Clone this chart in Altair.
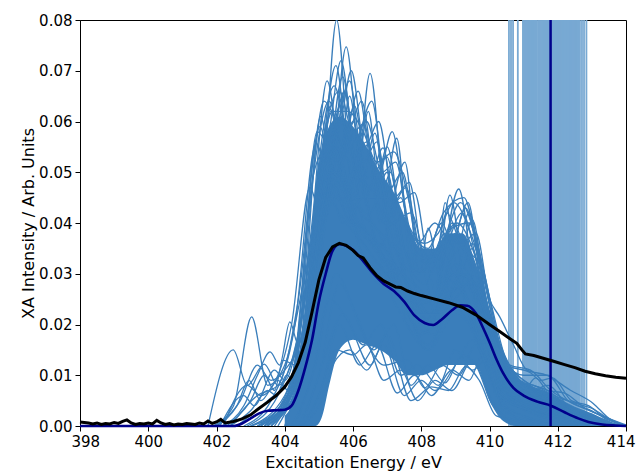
import altair as alt
import pandas as pd

# ---------------- data ----------------
x_ticks = [398, 400, 402, 404, 406, 408, 410, 412, 414]
y_ticks = [0.00, 0.01, 0.02, 0.03, 0.04, 0.05, 0.06, 0.07, 0.08]

# ionisation potentials (light vertical lines) and their mean (dark line)
ip_energies = [410.57, 410.63, 410.69, 410.83, 410.98, 411.01, 411.04, 411.07, 411.10,
               411.13, 411.16, 411.19, 411.22, 411.25, 411.28, 411.31, 411.34, 411.37,
               411.42, 411.45, 411.48, 411.51, 411.54, 411.57, 411.60, 411.63, 411.66,
               411.69, 411.72, 411.75, 411.78, 411.81, 411.84, 411.87, 411.90, 411.93,
               411.96, 411.99, 412.02, 412.05, 412.08, 412.11, 412.14, 412.17, 412.20,
               412.23, 412.26, 412.29, 412.32, 412.35, 412.38, 412.41, 412.44, 412.47,
               412.50, 412.53, 412.56, 412.59, 412.62, 412.65, 412.71, 412.77, 412.84]
mean_ip = 411.79

# dense core of the overlapping computed spectra
core_energy = [404.0, 404.3, 404.5, 404.7, 404.9, 405.1, 405.3, 405.6, 406.0, 406.4,
               406.8, 407.2, 407.6, 408.0, 408.4, 408.8, 409.2, 409.6, 410.0, 410.4,
               410.8, 411.2, 411.6, 412.0, 412.5, 413.0, 413.5, 414.0]
core_low = [0, 0, 0, 0, 0, 0.002, 0.008, 0.015, 0.017, 0.016, 0.015, 0.013, 0.010, 0.010,
            0.011, 0.012, 0.012, 0.012, 0.005, 0.001, 0, 0, 0, 0, 0, 0, 0, 0]
core_high = [0.002, 0.006, 0.016, 0.030, 0.047, 0.055, 0.059, 0.061, 0.059, 0.055, 0.050,
             0.046, 0.040, 0.035, 0.035, 0.038, 0.038, 0.032, 0.023, 0.015, 0.010, 0.008,
             0.007, 0.0055, 0.0038, 0.0025, 0.001, 0]

# individual computed spectra (energy, intensity knots)
upper_spectra = [
    [(403.0, 0), (404.0, 0.004), (404.6, 0.02), (405.15, 0.05), (405.52, 0.080), (405.95, 0.045), (406.4, 0.032), (407.0, 0.030), (407.6, 0.022), (408.2, 0.016), (409.1, 0.028), (409.8, 0.015), (410.4, 0.005), (411.3, 0.003), (412.5, 0.0008), (413.5, 0)],
    [(403.2, 0), (404.2, 0.005), (404.9, 0.03), (405.4, 0.05), (405.8, 0.0747), (406.2, 0.05), (406.6, 0.038), (407.2, 0.03), (407.8, 0.02), (408.4, 0.018), (408.9, 0.03), (409.5, 0.022), (410.2, 0.007), (411.0, 0.004), (412.2, 0.001), (413.2, 0)],
    [(403.4, 0), (404.3, 0.006), (405.0, 0.035), (405.5, 0.045), (406.0, 0.04), (406.5, 0.0695), (406.95, 0.04), (407.5, 0.025), (408.2, 0.015), (409.0, 0.025), (409.6, 0.02), (410.3, 0.006), (411.2, 0.003), (412.5, 0.001), (413.5, 0)],
    [(402.6, 0), (403.5, 0.005), (404.2, 0.01), (404.8, 0.04), (405.24, 0.068), (405.65, 0.05), (406.2, 0.035), (406.8, 0.028), (407.4, 0.03), (408.0, 0.02), (408.7, 0.025), (409.4, 0.022), (410.0, 0.01), (410.8, 0.004), (412.0, 0.002), (413.2, 0)],
    [(403.0, 0), (404.0, 0.006), (404.7, 0.025), (405.2, 0.045), (405.7, 0.0688), (406.2, 0.045), (406.64, 0.0577), (407.1, 0.035), (407.6, 0.028), (408.3, 0.02), (408.84, 0.0455), (409.3, 0.025), (410.0, 0.012), (410.6, 0.005), (411.7, 0.003), (413.0, 0)],
    [(403.3, 0), (404.3, 0.008), (404.9, 0.04), (405.5, 0.071), (405.95, 0.05), (406.32, 0.0597), (406.8, 0.04), (407.28, 0.0567), (407.7, 0.03), (408.3, 0.022), (409.1, 0.0467), (409.6, 0.025), (410.2, 0.01), (411.0, 0.006), (411.7, 0.008), (412.4, 0.003), (413.3, 0)],
    [(402.4, 0), (403.2, 0.006), (403.8, 0.008), (404.4, 0.025), (405.03, 0.059), (405.5, 0.045), (405.9, 0.065), (406.35, 0.045), (406.88, 0.0548), (407.3, 0.035), (407.9, 0.024), (408.4, 0.025), (408.7, 0.044), (409.1, 0.03), (409.5, 0.035), (410.0, 0.015), (410.6, 0.006), (411.5, 0.004), (412.8, 0.001), (413.6, 0)],
    [(402.8, 0), (403.6, 0.005), (404.3, 0.02), (404.92, 0.0557), (405.4, 0.045), (405.8, 0.058), (406.3, 0.04), (406.8, 0.035), (407.52, 0.052), (407.95, 0.03), (408.2, 0.039), (408.6, 0.028), (409.37, 0.044), (409.8, 0.025), (410.3, 0.012), (411.0, 0.008), (411.6, 0.006), (412.4, 0.002), (413.4, 0)],
    [(402.2, 0), (402.9, 0.008), (403.3, 0.006), (403.8, 0.01), (404.2, 0.02), (404.74, 0.047), (405.1, 0.04), (405.6, 0.063), (406.1, 0.045), (406.6, 0.045), (407.0, 0.055), (407.5, 0.035), (408.1, 0.028), (408.6, 0.035), (409.0, 0.03), (409.5, 0.0406), (409.9, 0.025), (410.4, 0.012), (411.0, 0.006), (411.6, 0.005), (412.5, 0.002), (413.5, 0)],
    [(403.6, 0), (404.5, 0.01), (405.1, 0.04), (405.6, 0.05), (406.05, 0.063), (406.5, 0.045), (407.0, 0.045), (407.5, 0.04), (408.1, 0.03), (408.5, 0.02), (409.0, 0.032), (409.4, 0.03), (410.0, 0.018), (410.8, 0.007), (411.5, 0.004), (412.7, 0.001), (413.6, 0)],
]

dense_top_spectra = [
    [(403.5, 0), (404.4, 0.012), (405.05, 0.061), (405.4, 0.05), (405.75, 0.066), (406.1, 0.05), (406.45, 0.062), (406.8, 0.045), (407.1, 0.05), (407.5, 0.035), (408.0, 0.03), (408.6, 0.04), (409.0, 0.034), (409.4, 0.042), (409.9, 0.025), (410.4, 0.012), (411.2, 0.006), (412.3, 0.002), (413.4, 0)],
    [(403.4, 0), (404.3, 0.01), (404.85, 0.05), (405.3, 0.064), (405.7, 0.055), (406.15, 0.066), (406.6, 0.05), (407.0, 0.053), (407.35, 0.044), (407.8, 0.046), (408.3, 0.03), (408.75, 0.042), (409.2, 0.036), (409.6, 0.038), (410.0, 0.024), (410.5, 0.01), (411.3, 0.006), (412.4, 0.002), (413.4, 0)],
    [(403.7, 0), (404.5, 0.015), (405.0, 0.052), (405.45, 0.067), (405.85, 0.058), (406.25, 0.064), (406.7, 0.048), (407.15, 0.058), (407.6, 0.04), (408.1, 0.036), (408.5, 0.038), (408.95, 0.044), (409.45, 0.038), (409.9, 0.028), (410.4, 0.014), (411.2, 0.008), (412.2, 0.004), (413.2, 0.001), (414.0, 0)],
    [(403.2, 0), (404.2, 0.008), (404.75, 0.045), (405.15, 0.064), (405.6, 0.06), (405.95, 0.07), (406.35, 0.055), (406.75, 0.06), (407.2, 0.045), (407.65, 0.048), (408.1, 0.032), (408.55, 0.036), (409.05, 0.04), (409.55, 0.034), (410.0, 0.022), (410.5, 0.01), (411.3, 0.005), (412.5, 0.001), (413.5, 0)],
    [(403.6, 0), (404.5, 0.014), (405.1, 0.055), (405.6, 0.066), (406.0, 0.058), (406.4, 0.06), (406.85, 0.05), (407.25, 0.052), (407.7, 0.038), (408.2, 0.035), (408.65, 0.042), (409.25, 0.045), (409.7, 0.033), (410.2, 0.018), (410.8, 0.009), (411.5, 0.007), (412.3, 0.004), (413.2, 0.001), (414.0, 0)],
    [(403.3, 0), (404.2, 0.009), (404.8, 0.048), (405.3, 0.058), (405.65, 0.072), (406.05, 0.056), (406.55, 0.064), (407.0, 0.046), (407.45, 0.05), (407.9, 0.036), (408.4, 0.04), (408.9, 0.036), (409.3, 0.043), (409.8, 0.028), (410.3, 0.014), (411.0, 0.008), (411.8, 0.006), (412.7, 0.002), (413.6, 0)],
    [(403.5, 0), (404.4, 0.011), (405.0, 0.05), (405.4, 0.062), (405.85, 0.062), (406.3, 0.058), (406.7, 0.052), (407.2, 0.054), (407.65, 0.044), (408.0, 0.034), (408.45, 0.033), (408.9, 0.039), (409.4, 0.04), (409.85, 0.03), (410.3, 0.016), (411.0, 0.009), (411.7, 0.007), (412.5, 0.003), (413.4, 0)],
    [(403.4, 0), (404.3, 0.01), (404.95, 0.058), (405.35, 0.055), (405.9, 0.068), (406.3, 0.052), (406.7, 0.056), (407.1, 0.043), (407.55, 0.047), (408.05, 0.033), (408.6, 0.036), (409.15, 0.044), (409.6, 0.037), (410.05, 0.024), (410.6, 0.011), (411.3, 0.007), (412.1, 0.004), (413.0, 0.001), (413.8, 0)],
]

mid_spectra = [
    [(403.5, 0), (404.3, 0.008), (404.9, 0.035), (405.35, 0.062), (405.8, 0.045), (406.2, 0.052), (406.7, 0.035), (407.2, 0.04), (407.7, 0.025), (408.3, 0.022), (408.9, 0.04), (409.4, 0.032), (409.9, 0.02), (410.5, 0.008), (411.3, 0.005), (412.2, 0.002), (413.2, 0)],
    [(403.0, 0), (404.0, 0.005), (404.7, 0.03), (405.15, 0.052), (405.6, 0.05), (406.0, 0.06), (406.5, 0.042), (407.0, 0.05), (407.5, 0.032), (408.0, 0.035), (408.5, 0.025), (409.0, 0.038), (409.6, 0.03), (410.1, 0.018), (410.7, 0.008), (411.4, 0.006), (412.0, 0.004), (412.8, 0.002), (413.6, 0)],
    [(403.2, 0), (404.2, 0.006), (404.8, 0.028), (405.3, 0.05), (405.75, 0.066), (406.2, 0.048), (406.7, 0.05), (407.2, 0.036), (407.8, 0.03), (408.4, 0.03), (409.2, 0.042), (409.7, 0.03), (410.3, 0.014), (411.0, 0.01), (411.7, 0.01), (412.3, 0.005), (413.0, 0.003), (413.7, 0)],
    [(402.9, 0), (403.8, 0.006), (404.5, 0.022), (405.0, 0.048), (405.45, 0.058), (405.9, 0.052), (406.4, 0.056), (406.9, 0.04), (407.4, 0.045), (407.9, 0.03), (408.5, 0.033), (409.0, 0.028), (409.5, 0.036), (410.0, 0.022), (410.6, 0.012), (411.2, 0.011), (411.8, 0.007), (412.6, 0.004), (413.3, 0.002), (414.0, 0)],
    [(403.4, 0), (404.4, 0.01), (405.0, 0.042), (405.6, 0.06), (406.1, 0.05), (406.6, 0.046), (407.1, 0.04), (407.7, 0.042), (408.2, 0.032), (408.7, 0.038), (409.2, 0.035), (409.72, 0.032), (410.0, 0.025), (410.3, 0.0215), (410.7, 0.016), (411.1, 0.011), (411.68, 0.010), (412.36, 0.0071), (413.03, 0.0045), (413.5, 0.0015), (414.0, 0)],
]

pre_edge_spectra = [
    [(401.9, 0), (402.5, 0.004), (403.03, 0.0215), (403.5, 0.008), (404.0, 0.012), (404.6, 0.03), (405.2, 0.05), (405.7, 0.04), (406.3, 0.045), (406.9, 0.03), (407.5, 0.025), (408.2, 0.02), (408.9, 0.03), (409.5, 0.02), (410.2, 0.008), (411.0, 0.004), (412.3, 0.001), (413.3, 0)],
    [(401.75, 0), (402.49, 0.015), (402.9, 0.008), (403.4, 0.0122), (403.8, 0.008), (404.3, 0.015), (404.9, 0.04), (405.5, 0.055), (406.1, 0.04), (406.7, 0.035), (407.3, 0.03), (408.0, 0.018), (408.8, 0.025), (409.4, 0.02), (410.0, 0.01), (410.8, 0.004), (412.0, 0.001), (413.0, 0)],
    [(402.2, 0), (402.8, 0.004), (403.2, 0.01), (403.57, 0.0146), (403.85, 0.012), (404.15, 0.0205), (404.4, 0.016), (404.9, 0.035), (405.4, 0.05), (406.0, 0.04), (406.6, 0.033), (407.2, 0.028), (407.8, 0.018), (408.5, 0.02), (409.2, 0.026), (409.8, 0.015), (410.5, 0.006), (411.3, 0.004), (412.5, 0.001), (413.5, 0)],
    [(402.0, 0), (402.7, 0.005), (403.2, 0.012), (403.6, 0.009), (404.0, 0.011), (404.5, 0.018), (405.1, 0.045), (405.6, 0.05), (406.2, 0.035), (406.8, 0.03), (407.4, 0.022), (408.2, 0.015), (409.0, 0.022), (409.6, 0.018), (410.3, 0.006), (411.2, 0.003), (412.5, 0.0005), (413.4, 0)],
    [(402.1, 0), (402.8, 0.006), (403.1, 0.004), (403.7, 0.011), (404.0, 0.009), (404.6, 0.025), (405.3, 0.055), (405.9, 0.045), (406.5, 0.04), (407.2, 0.035), (407.8, 0.025), (408.4, 0.022), (409.2, 0.03), (409.8, 0.02), (410.5, 0.007), (411.2, 0.005), (412.3, 0.002), (413.4, 0)],
    [(402.3, 0), (403.0, 0.005), (403.4, 0.010), (403.7, 0.007), (403.95, 0.013), (404.3, 0.012), (404.8, 0.03), (405.4, 0.05), (406.0, 0.042), (406.6, 0.036), (407.2, 0.03), (407.9, 0.02), (408.6, 0.024), (409.3, 0.028), (409.9, 0.016), (410.6, 0.006), (411.4, 0.004), (412.6, 0.001), (413.5, 0)],
    [(402.4, 0), (403.0, 0.003), (403.5, 0.007), (403.75, 0.006), (404.05, 0.01), (404.3, 0.009), (404.8, 0.035), (405.4, 0.055), (406.0, 0.045), (406.6, 0.04), (407.2, 0.032), (407.8, 0.028), (408.4, 0.025), (409.0, 0.03), (409.6, 0.026), (410.2, 0.012), (410.9, 0.006), (411.8, 0.004), (412.8, 0.0015), (413.7, 0)],
    [(402.0, 0), (402.6, 0.004), (402.95, 0.009), (403.3, 0.005), (403.8, 0.009), (404.1, 0.007), (404.6, 0.025), (405.3, 0.05), (405.9, 0.04), (406.5, 0.038), (407.1, 0.03), (407.7, 0.024), (408.4, 0.02), (409.1, 0.027), (409.7, 0.02), (410.4, 0.008), (411.1, 0.004), (412.2, 0.0015), (413.2, 0)],
]

low_spectra = [
    [(404.4, 0), (405.0, 0.004), (405.4, 0.012), (405.9, 0.015), (406.4, 0.011), (406.9, 0.016), (407.5, 0.006), (408.0, 0.009), (408.4, 0.007), (409.0, 0.012), (409.5, 0.017), (409.9, 0.012), (410.4, 0.004), (411.0, 0.002), (412.0, 0.0005), (413.0, 0)],
    [(404.2, 0), (404.8, 0.01), (405.3, 0.025), (405.9, 0.02), (406.5, 0.012), (407.0, 0.018), (407.7, 0.005), (408.3, 0.0077), (408.8, 0.007), (409.3, 0.0117), (409.7, 0.009), (410.2, 0.002), (411.0, 0.001), (412.0, 0)],
    [(404.5, 0), (405.0, 0.006), (405.5, 0.015), (406.0, 0.014), (406.4, 0.016), (406.9, 0.009), (407.4, 0.011), (407.9, 0.005), (408.4, 0.009), (408.9, 0.007), (409.5, 0.013), (410.0, 0.006), (410.6, 0.001), (411.5, 0)],
    [(404.3, 0), (404.9, 0.012), (405.5, 0.03), (406.1, 0.022), (406.6, 0.015), (407.2, 0.02), (407.7, 0.008), (408.2, 0.012), (408.7, 0.0085), (409.2, 0.014), (409.6, 0.012), (410.1, 0.004), (410.8, 0.001), (411.8, 0)],
    [(404.6, 0), (405.1, 0.008), (405.6, 0.02), (406.2, 0.012), (406.7, 0.016), (407.3, 0.0065), (407.8, 0.01), (408.3, 0.006), (408.9, 0.011), (409.4, 0.009), (409.8, 0.014), (410.3, 0.005), (411.0, 0.001), (412.0, 0)],
    [(404.4, 0), (405.0, 0.01), (405.6, 0.028), (406.3, 0.018), (406.9, 0.012), (407.6, 0.013), (408.1, 0.0075), (408.6, 0.012), (409.1, 0.01), (409.6, 0.016), (410.2, 0.006), (411.0, 0.002), (412.0, 0)],
    [(404.5, 0), (405.1, 0.012), (405.7, 0.022), (406.3, 0.016), (406.8, 0.02), (407.4, 0.01), (407.9, 0.012), (408.5, 0.008), (409.0, 0.015), (409.5, 0.011), (409.9, 0.013), (410.4, 0.003), (411.2, 0.001), (412.2, 0)],
]

tail_spectra = [
    [(403.6, 0), (404.5, 0.012), (405.2, 0.045), (405.8, 0.04), (406.4, 0.035), (407.0, 0.03), (407.7, 0.025), (408.4, 0.02), (409.3, 0.03), (409.9, 0.022), (410.5, 0.012), (411.2, 0.0105), (411.5, 0.009), (411.85, 0.0095), (412.4, 0.005), (412.9, 0.004), (413.4, 0.0015), (414.0, 0)],
    [(403.8, 0), (404.6, 0.015), (405.3, 0.048), (405.9, 0.042), (406.5, 0.036), (407.1, 0.03), (407.8, 0.022), (408.6, 0.022), (409.4, 0.028), (410.0, 0.02), (410.6, 0.009), (411.3, 0.008), (411.9, 0.006), (412.5, 0.0045), (413.0, 0.0035), (413.6, 0.001), (414.0, 0)],
    [(404.0, 0), (404.8, 0.02), (405.5, 0.05), (406.2, 0.04), (406.9, 0.035), (407.6, 0.028), (408.3, 0.024), (409.0, 0.03), (409.6, 0.028), (410.1, 0.02), (410.6, 0.01), (411.0, 0.007), (411.35, 0.0095), (411.7, 0.007), (412.2, 0.0065), (412.8, 0.0035), (413.3, 0.002), (414.0, 0.0002)],
]

# experiment (black) and ensemble mean (dark blue)
exp_energy = [398.0, 398.125, 398.25, 398.375, 398.5, 398.625, 398.75, 398.875, 399.0, 399.125,
              399.25, 399.375, 399.5, 399.625, 399.75, 399.875, 400.0, 400.125, 400.25, 400.375,
              400.5, 400.625, 400.75, 400.875, 401.0, 401.125, 401.25, 401.375, 401.5, 401.625,
              401.75, 401.875, 402.0, 402.125, 402.25, 402.5, 402.75, 403.0, 403.25, 403.5,
              403.75, 404.0, 404.2, 404.4, 404.6, 404.8, 405.0, 405.2, 405.4, 405.6, 405.8,
              406.0, 406.15, 406.3, 406.5, 406.7, 406.9, 407.1, 407.25, 407.4, 407.6, 407.8,
              408.0, 408.4, 408.8, 409.2, 409.6, 410.0, 410.3, 410.6, 410.8, 410.95, 411.05,
              411.3, 411.6, 411.9, 412.2, 412.5, 412.8, 413.1, 413.4, 413.7, 414.0]
exp_values = [0.0008, 0.0007, 0.0006, 0.0004, 0.0006, 0.0003, 0.0005, 0.0004, 0.0007, 0.0005,
              0.0009, 0.0012, 0.0006, 0.0003, 0.0005, 0.0004, 0.0006, 0.0004, 0.0011, 0.0006,
              0.0003, 0.0005, 0.0002, 0.0004, 0.0003, 0.0005, 0.0004, 0.0003, 0.0006, 0.0004,
              0.0010, 0.0005, 0.0008, 0.0013, 0.0006, 0.0009, 0.0014, 0.0022, 0.0035, 0.0047,
              0.0060, 0.0077, 0.0097, 0.0125, 0.0165, 0.0225, 0.0288, 0.0332, 0.0353, 0.0360, 0.0356,
              0.0346, 0.0336, 0.0331, 0.0312, 0.0296, 0.0286, 0.0279, 0.0274, 0.0273, 0.0266, 0.0261,
              0.0257, 0.0250, 0.0243, 0.0234, 0.0219, 0.0200, 0.0186, 0.0172, 0.0163, 0.0150, 0.0142,
              0.0139, 0.0133, 0.0127, 0.0121, 0.0115, 0.0108, 0.0103, 0.0099, 0.0096, 0.0094]

mean_energy = [398.0, 402.5, 402.75, 403.0, 403.25, 403.5, 403.75, 404.0, 404.2, 404.4, 404.6,
               404.8, 405.0, 405.2, 405.4, 405.6, 405.8, 406.0, 406.3, 406.6, 406.9, 407.2,
               407.5, 407.8, 408.1, 408.35, 408.6, 408.9, 409.15, 409.35, 409.6, 409.8, 410.0,
               410.2, 410.4, 410.7, 411.0, 411.4, 411.8, 412.2, 412.6, 412.9, 413.3, 413.7, 414.0]
mean_values = [0, 0, 0.0005, 0.0015, 0.0025, 0.0030, 0.0031, 0.0032, 0.0040, 0.0070, 0.0115,
               0.0170, 0.0245, 0.0300, 0.0345, 0.0358, 0.0355, 0.0347, 0.0325, 0.0300, 0.0280, 0.0266,
               0.0245, 0.0218, 0.0203, 0.0199, 0.0210, 0.0228, 0.0238, 0.0237, 0.0222, 0.0195, 0.0165,
               0.0132, 0.0104, 0.0075, 0.0060, 0.0048, 0.0040, 0.0027, 0.0015, 0.0008, 0.0003, 0.0001, 0]

# ---------------- tables ----------------
rows = []
for gname, group in [("u", upper_spectra), ("d", dense_top_spectra), ("m", mid_spectra),
                     ("p", pre_edge_spectra), ("l", low_spectra), ("t", tail_spectra)]:
    for i, knots in enumerate(group):
        for e, v in knots:
            rows.append({"series": f"{gname}{i}", "energy": e, "value": v})
spec_df = pd.DataFrame(rows)
core_df = pd.DataFrame({"energy": core_energy, "value": core_low, "high": core_high})
ip_df = pd.DataFrame({"energy": ip_energies})
mean_ip_df = pd.DataFrame({"energy": [mean_ip]})
exp_df = pd.DataFrame({"energy": exp_energy, "value": exp_values})
mean_df = pd.DataFrame({"energy": mean_energy, "value": mean_values})

BLUE = "#3a7ebb"
x_scale = alt.Scale(domain=[398, 414], nice=False, zero=False)
y_scale = alt.Scale(domain=[0, 0.08], nice=False)
x_enc = alt.X("energy:Q", scale=x_scale,
              axis=alt.Axis(values=x_ticks, format="d", title="Excitation Energy / eV",
                            titlePadding=5, labelFlush=True, labelFlushOffset=9))
y_enc = alt.Y("value:Q", scale=y_scale,
              axis=alt.Axis(values=y_ticks, format=".2f", title="XA Intensity / Arb. Units",
                            titlePadding=2, labelFlush=False))

ip_layer = alt.Chart(ip_df).mark_rule(color="#78a9d3", strokeWidth=1.8).encode(x=x_enc)
core_layer = alt.Chart(core_df).mark_area(color=BLUE, interpolate="monotone").encode(
    x=x_enc, y=y_enc, y2="high:Q")
spec_layer = alt.Chart(spec_df).mark_line(color=BLUE, strokeWidth=1.3, interpolate="monotone",
                                          clip=True).encode(x=x_enc, y=y_enc, detail="series:N")
mean_ip_layer = alt.Chart(mean_ip_df).mark_rule(color="#00008b", strokeWidth=2.5).encode(x=x_enc)
mean_layer = alt.Chart(mean_df).mark_line(color="#00008b", strokeWidth=2.6,
                                          interpolate="monotone").encode(x=x_enc, y=y_enc)
exp_layer = alt.Chart(exp_df).mark_line(color="black", strokeWidth=3).encode(x=x_enc, y=y_enc)

chart = alt.layer(ip_layer, core_layer, spec_layer, mean_ip_layer, mean_layer, exp_layer).properties(
    width=546, height=406, autosize="none",
    padding={"left": 72, "top": 12, "right": 10, "bottom": 48},
    background="white",
).configure_axis(
    labelFont="DejaVu Sans", labelFontSize=15, labelColor="black",
    titleFont="DejaVu Sans", titleFontSize=16, titleFontWeight="normal", titleColor="black",
    tickColor="black", domainColor="black", tickSize=5, grid=False, labelPadding=3,
).configure_view(stroke="black", strokeWidth=1)

chart.save("out.html", embed_options={"renderer": "svg", "actions": False})
